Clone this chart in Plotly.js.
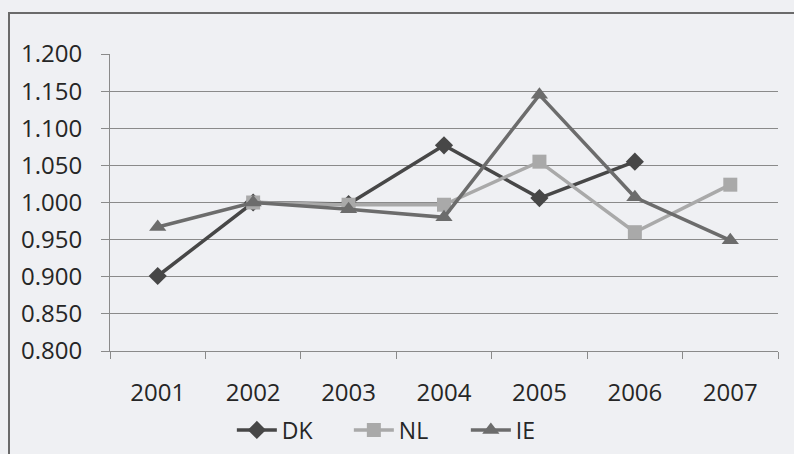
<!DOCTYPE html>
<html>
<head>
<meta charset="utf-8">
<script src="https://cdn.plot.ly/plotly-3.0.1.min.js"></script>
<style>
  html, body { margin: 0; padding: 0; background: #eff0f3; }
  #frame { position: absolute; left: 0; top: 0; width: 794px; height: 454px; }
  #border { position: absolute; left: 8px; top: 12px; width: 800px; height: 460px;
            border-top: 2px solid #6a6a6a; border-left: 2px solid #6a6a6a; pointer-events: none; }
</style>
</head>
<body>
<div id="frame"></div>
<div id="border"></div>
<script>
// Yearly index values per country (base ~1.000)
const years = ["2001", "2002", "2003", "2004", "2005", "2006", "2007"];
const dk = [0.901, 1.000, 0.998, 1.077, 1.006, 1.055, null];
const nl = [null, 1.000, 0.997, 0.997, 1.055, 0.960, 1.024];
const ie = [0.967, 1.000, 0.991, 0.980, 1.145, 1.007, 0.949];

const font = "'Open Sans', 'Liberation Sans', sans-serif";
const textColor = "#262626";

function series(name, y, color, symbol, size) {
  return {
    type: "scatter", mode: "lines+markers", name: name,
    x: years, y: y, connectgaps: false,
    line: { color: color, width: 3.5 },
    marker: { symbol: symbol, size: size, color: color }
  };
}

const data = [
  series("DK", dk, "#474747", "diamond", 14),
  series("NL", nl, "#a9a9a9", "square", 14),
  series("IE", ie, "#6c6c6c", "triangle-up", 15)
];

const layout = {
  width: 794, height: 454,
  margin: { l: 110, r: 16, t: 54, b: 103 },
  paper_bgcolor: "rgba(0,0,0,0)",
  plot_bgcolor: "rgba(0,0,0,0)",
  font: { family: font, size: 24, color: textColor },
  showlegend: true,
  legend: {
    orientation: "h", xref: "container", yref: "container",
    x: 0.292, xanchor: "left", y: 0.053, yanchor: "middle",
    font: { family: font, size: 23, color: textColor },
    bgcolor: "rgba(0,0,0,0)", itemwidth: 40,
    entrywidth: 62, entrywidthmode: "pixels"
  },
  xaxis: {
    type: "category", range: [-0.5, 6.5],
    showgrid: false, zeroline: false,
    showline: true, linecolor: "#8a8a8a", linewidth: 1,
    ticks: "outside", tickson: "boundaries", ticklen: 7, tickcolor: "#8a8a8a",
    ticklabelstandoff: 20,
    tickfont: { family: font, size: 24, color: textColor }
  },
  yaxis: {
    range: [0.8, 1.2], dtick: 0.05, tick0: 0.8, tickformat: ".3f",
    showgrid: true, gridcolor: "#8a8a8a", gridwidth: 1, zeroline: false,
    showline: true, linecolor: "#8a8a8a", linewidth: 1,
    ticks: "outside", ticklen: 8, tickcolor: "#8a8a8a",
    ticklabelstandoff: 14,
    tickfont: { family: font, size: 24, color: textColor }
  }
};

Plotly.newPlot("frame", data, layout, { staticPlot: true, displayModeBar: false });
</script>
</body>
</html>
